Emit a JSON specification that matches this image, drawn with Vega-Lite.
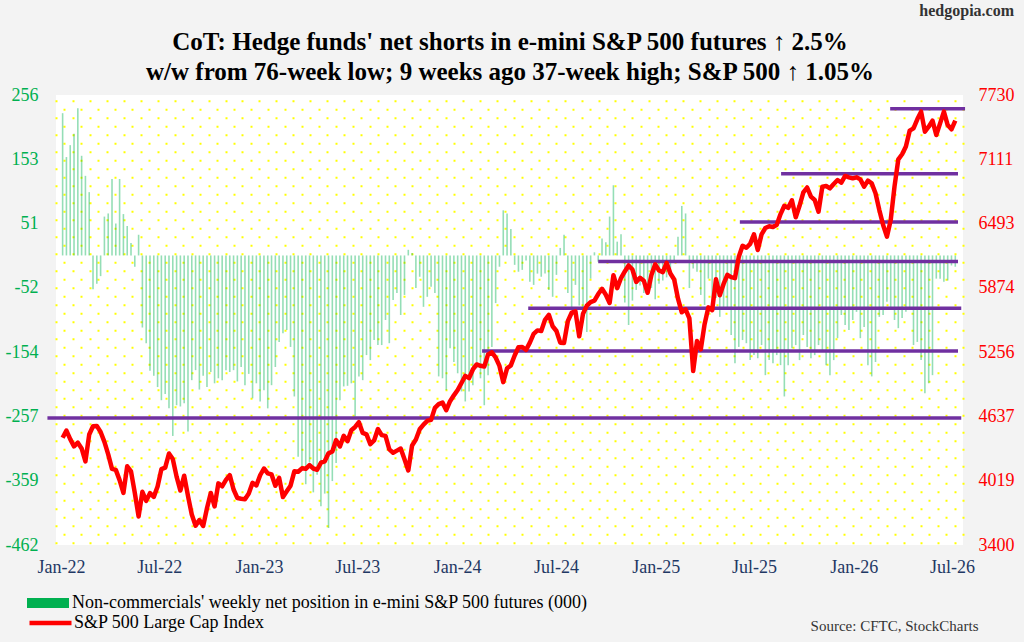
{
  "$schema": "https://vega.github.io/schema/vega-lite/v6.json",
  "width": 907,
  "height": 450,
  "autosize": {"type": "none"},
  "padding": {"left": 56, "top": 95, "right": 61, "bottom": 97},
  "background": "#f3f3f3",
  "title": {"text": "hedgopia.com", "anchor": "end", "font": "Liberation Serif", "fontSize": 16, "fontWeight": "bold", "color": "#333333", "offset": 10},
  "datasets": {
    "weekly": [
      {"d":"2022-01-04","p":227,"s":4432},{"d":"2022-01-11","p":157,"s":4501},{"d":"2022-01-18","p":176,"s":4419},{"d":"2022-01-25","p":194,"s":4349},
      {"d":"2022-02-01","p":235,"s":4385},{"d":"2022-02-08","p":159,"s":4329},{"d":"2022-02-15","p":127,"s":4204},{"d":"2022-02-22","p":101,"s":4463},
      {"d":"2022-03-01","p":-54,"s":4543},{"d":"2022-03-08","p":-45,"s":4546},{"d":"2022-03-15","p":-33,"s":4488},{"d":"2022-03-22","p":62,"s":4392},
      {"d":"2022-03-29","p":67,"s":4272},{"d":"2022-04-05","p":122,"s":4132},{"d":"2022-04-12","p":51,"s":4123},{"d":"2022-04-19","p":122,"s":4024},
      {"d":"2022-04-26","p":66,"s":3901},{"d":"2022-05-03","p":47,"s":4158},{"d":"2022-05-10","p":20,"s":4109},{"d":"2022-05-17","p":-18,"s":3901},
      {"d":"2022-05-24","p":33,"s":3675},{"d":"2022-05-31","p":-115,"s":3912},{"d":"2022-06-07","p":-140,"s":3825},{"d":"2022-06-14","p":-184,"s":3899},
      {"d":"2022-06-21","p":-192,"s":3863},{"d":"2022-06-28","p":-210,"s":3962},{"d":"2022-07-05","p":-231,"s":4130},{"d":"2022-07-12","p":-221,"s":4145},
      {"d":"2022-07-19","p":-244,"s":4280},{"d":"2022-07-26","p":-288,"s":4228},{"d":"2022-08-02","p":-239,"s":4058},{"d":"2022-08-09","p":-241,"s":3924},
      {"d":"2022-08-16","p":-236,"s":4067},{"d":"2022-08-23","p":-281,"s":3873},{"d":"2022-08-30","p":-199,"s":3693},{"d":"2022-09-06","p":-183,"s":3586},
      {"d":"2022-09-13","p":-214,"s":3640},{"d":"2022-09-20","p":-192,"s":3583},{"d":"2022-09-27","p":-210,"s":3753},{"d":"2022-10-04","p":-186,"s":3901},
      {"d":"2022-10-11","p":-204,"s":3771},{"d":"2022-10-18","p":-196,"s":3993},{"d":"2022-10-25","p":-199,"s":3965},{"d":"2022-11-01","p":-183,"s":4026},
      {"d":"2022-11-08","p":-186,"s":4072},{"d":"2022-11-15","p":-183,"s":3934},{"d":"2022-11-22","p":-201,"s":3852},{"d":"2022-11-29","p":-178,"s":3845},
      {"d":"2022-12-06","p":-207,"s":3840},{"d":"2022-12-13","p":-189,"s":3895},{"d":"2022-12-20","p":-228,"s":3999},{"d":"2022-12-27","p":-204,"s":3973},
      {"d":"2023-01-03","p":-233,"s":4071},{"d":"2023-01-10","p":-215,"s":4136},{"d":"2023-01-17","p":-244,"s":4090},{"d":"2023-01-24","p":-207,"s":4079},
      {"d":"2023-01-31","p":-178,"s":3970},{"d":"2023-02-07","p":-138,"s":4046},{"d":"2023-02-14","p":-124,"s":3862},{"d":"2023-02-21","p":-119,"s":3917},
      {"d":"2023-02-28","p":-146,"s":3971},{"d":"2023-03-07","p":-225,"s":4109},{"d":"2023-03-14","p":-321,"s":4105},{"d":"2023-03-21","p":-340,"s":4138},
      {"d":"2023-03-28","p":-365,"s":4133},{"d":"2023-04-04","p":-330,"s":4169},{"d":"2023-04-11","p":-378,"s":4136},{"d":"2023-04-18","p":-350,"s":4124},
      {"d":"2023-04-25","p":-400,"s":4192},{"d":"2023-05-02","p":-380,"s":4205},{"d":"2023-05-09","p":-435,"s":4282},{"d":"2023-05-16","p":-360,"s":4299},
      {"d":"2023-05-23","p":-331,"s":4410},{"d":"2023-05-30","p":-231,"s":4348},{"d":"2023-06-06","p":-209,"s":4450},{"d":"2023-06-13","p":-208,"s":4399},
      {"d":"2023-06-20","p":-204,"s":4505},{"d":"2023-06-27","p":-257,"s":4536},{"d":"2023-07-04","p":-193,"s":4582},{"d":"2023-07-11","p":-199,"s":4478},
      {"d":"2023-07-18","p":-159,"s":4464},{"d":"2023-07-25","p":-167,"s":4370},{"d":"2023-08-01","p":-135,"s":4406},{"d":"2023-08-08","p":-143,"s":4516},
      {"d":"2023-08-15","p":-143,"s":4457},{"d":"2023-08-22","p":-103,"s":4450},{"d":"2023-08-29","p":-140,"s":4320},{"d":"2023-09-05","p":-71,"s":4288},
      {"d":"2023-09-12","p":-60,"s":4308},{"d":"2023-09-19","p":-95,"s":4328},{"d":"2023-09-26","p":-63,"s":4224},{"d":"2023-10-03","p":9,"s":4117},
      {"d":"2023-10-10","p":4,"s":4358},{"d":"2023-10-17","p":-52,"s":4415},{"d":"2023-10-24","p":-34,"s":4514},{"d":"2023-10-31","p":-82,"s":4559},
      {"d":"2023-11-07","p":-66,"s":4595},{"d":"2023-11-14","p":-50,"s":4604},{"d":"2023-11-21","p":-60,"s":4719},{"d":"2023-11-28","p":-193,"s":4755},
      {"d":"2023-12-05","p":-196,"s":4770},{"d":"2023-12-12","p":-215,"s":4697},{"d":"2023-12-19","p":-148,"s":4784},{"d":"2023-12-26","p":-170,"s":4840},
      {"d":"2024-01-02","p":-188,"s":4891},{"d":"2024-01-09","p":-217,"s":4959},{"d":"2024-01-16","p":-233,"s":5027},{"d":"2024-01-23","p":-217,"s":5006},
      {"d":"2024-01-30","p":-207,"s":5089},{"d":"2024-02-06","p":-180,"s":5137},{"d":"2024-02-13","p":-196,"s":5124},{"d":"2024-02-20","p":-239,"s":5117},
      {"d":"2024-02-27","p":-191,"s":5234},{"d":"2024-03-05","p":-146,"s":5254},{"d":"2024-03-12","p":-76,"s":5204},{"d":"2024-03-19","p":-18,"s":5123},
      {"d":"2024-03-26","p":72,"s":4967},{"d":"2024-04-02","p":67,"s":5100},{"d":"2024-04-09","p":42,"s":5128},{"d":"2024-04-16","p":-15,"s":5223},
      {"d":"2024-04-23","p":-26,"s":5303},{"d":"2024-04-30","p":-23,"s":5305},{"d":"2024-05-07","p":-8,"s":5278},{"d":"2024-05-14","p":-42,"s":5347},
      {"d":"2024-05-21","p":-47,"s":5432},{"d":"2024-05-28","p":-29,"s":5465},{"d":"2024-06-04","p":-34,"s":5460},{"d":"2024-06-11","p":-29,"s":5567},
      {"d":"2024-06-18","p":-55,"s":5615},{"d":"2024-06-25","p":-66,"s":5505},{"d":"2024-07-02","p":-31,"s":5459},{"d":"2024-07-09","p":12,"s":5347},
      {"d":"2024-07-16","p":33,"s":5344},{"d":"2024-07-23","p":-60,"s":5554},{"d":"2024-07-30","p":-87,"s":5635},{"d":"2024-08-06","p":-47,"s":5648},
      {"d":"2024-08-13","p":-80,"s":5408},{"d":"2024-08-20","p":-103,"s":5626},{"d":"2024-08-27","p":-122,"s":5703},{"d":"2024-09-03","p":-37,"s":5738},
      {"d":"2024-09-10","p":5,"s":5751},{"d":"2024-09-17","p":-10,"s":5815},{"d":"2024-09-24","p":27,"s":5865},{"d":"2024-10-01","p":21,"s":5808},
      {"d":"2024-10-08","p":62,"s":5729},{"d":"2024-10-15","p":112,"s":5996},{"d":"2024-10-22","p":22,"s":5871},{"d":"2024-10-29","p":34,"s":5969},
      {"d":"2024-11-05","p":-75,"s":6032},{"d":"2024-11-12","p":-111,"s":6090},{"d":"2024-11-19","p":-72,"s":6051},{"d":"2024-11-26","p":-55,"s":5931},
      {"d":"2024-12-03","p":-48,"s":5971},{"d":"2024-12-10","p":-60,"s":5942},{"d":"2024-12-17","p":-48,"s":5827},{"d":"2024-12-24","p":-52,"s":5997},
      {"d":"2024-12-31","p":-70,"s":6101},{"d":"2025-01-07","p":-45,"s":6041},{"d":"2025-01-14","p":-40,"s":6026},{"d":"2025-01-21","p":-35,"s":6115},
      {"d":"2025-01-28","p":-25,"s":6013},{"d":"2025-02-04","p":-8,"s":5955},{"d":"2025-02-11","p":30,"s":5770},{"d":"2025-02-18","p":79,"s":5639},
      {"d":"2025-02-25","p":67,"s":5668},{"d":"2025-03-04","p":-52,"s":5581},{"d":"2025-03-11","p":-21,"s":5074},{"d":"2025-03-18","p":-26,"s":5363},
      {"d":"2025-03-25","p":-63,"s":5283},{"d":"2025-04-01","p":-79,"s":5525},{"d":"2025-04-08","p":-37,"s":5687},{"d":"2025-04-15","p":-87,"s":5660},
      {"d":"2025-04-22","p":-68,"s":5958},{"d":"2025-04-29","p":-98,"s":5803},{"d":"2025-05-06","p":-87,"s":5912},{"d":"2025-05-13","p":-85,"s":6000},
      {"d":"2025-05-20","p":-127,"s":5977},{"d":"2025-05-27","p":-172,"s":5968},{"d":"2025-06-03","p":-146,"s":6173},{"d":"2025-06-10","p":-135,"s":6279},
      {"d":"2025-06-17","p":-140,"s":6260},{"d":"2025-06-24","p":-167,"s":6297},{"d":"2025-07-01","p":-159,"s":6389},{"d":"2025-07-08","p":-164,"s":6238},
      {"d":"2025-07-15","p":-143,"s":6389},{"d":"2025-07-22","p":-191,"s":6450},{"d":"2025-07-29","p":-167,"s":6467},{"d":"2025-08-05","p":-172,"s":6460},
      {"d":"2025-08-12","p":-159,"s":6482},{"d":"2025-08-19","p":-175,"s":6584},{"d":"2025-08-26","p":-225,"s":6664},{"d":"2025-09-02","p":-175,"s":6644},
      {"d":"2025-09-09","p":-148,"s":6716},{"d":"2025-09-16","p":-143,"s":6553},{"d":"2025-09-23","p":-167,"s":6664},{"d":"2025-09-30","p":-127,"s":6792},
      {"d":"2025-10-07","p":-146,"s":6840},{"d":"2025-10-14","p":-164,"s":6752},{"d":"2025-10-21","p":-159,"s":6720},{"d":"2025-10-28","p":-143,"s":6607},
      {"d":"2025-11-04","p":-154,"s":6848},{"d":"2025-11-11","p":-175,"s":6854},{"d":"2025-11-18","p":-191,"s":6832},{"d":"2025-11-25","p":-167,"s":6874},
      {"d":"2025-12-02","p":-132,"s":6912},{"d":"2025-12-09","p":-95,"s":6887},{"d":"2025-12-16","p":-111,"s":6951},{"d":"2025-12-23","p":-119,"s":6938},
      {"d":"2025-12-30","p":-103,"s":6928},{"d":"2026-01-06","p":-90,"s":6938},{"d":"2026-01-13","p":-132,"s":6918},{"d":"2026-01-20","p":-114,"s":6848},
      {"d":"2026-01-27","p":-175,"s":6906},{"d":"2026-02-03","p":-193,"s":6880},{"d":"2026-02-10","p":-170,"s":6784},{"d":"2026-02-17","p":-98,"s":6623},
      {"d":"2026-02-24","p":-95,"s":6479},{"d":"2026-03-03","p":-74,"s":6367},{"d":"2026-03-10","p":-85,"s":6527},{"d":"2026-03-17","p":-103,"s":6850},
      {"d":"2026-03-24","p":-116,"s":7110},{"d":"2026-03-31","p":-100,"s":7160},{"d":"2026-04-07","p":-90,"s":7235},{"d":"2026-04-14","p":-87,"s":7387},
      {"d":"2026-04-21","p":-143,"s":7409},{"d":"2026-04-28","p":-138,"s":7496},{"d":"2026-05-05","p":-167,"s":7570},{"d":"2026-05-12","p":-220,"s":7377},
      {"d":"2026-05-19","p":-204,"s":7425},{"d":"2026-05-26","p":-191,"s":7483},{"d":"2026-06-02","p":-37,"s":7345},{"d":"2026-06-09","p":-37,"s":7457},
      {"d":"2026-06-16","p":-42,"s":7570},{"d":"2026-06-23","p":-40,"s":7441},{"d":"2026-06-30","p":-16,"s":7400},{"d":"2026-07-07","p":-18,"s":7483}
    ],
    "levels": [
      {"s":"2021-12-07","e":"2026-07-18","v":4621},
      {"s":"2024-02-16","e":"2026-07-12","v":5266},
      {"s":"2024-05-11","e":"2026-07-18","v":5678},
      {"s":"2024-09-17","e":"2026-07-12","v":6128},
      {"s":"2025-06-05","e":"2026-07-12","v":6508},
      {"s":"2025-08-20","e":"2026-07-12","v":6973},
      {"s":"2026-03-09","e":"2026-07-25","v":7598}
    ]
  },
  "layer": [
    {
      "layer": [
        {
          "data": {"name": "weekly"},
          "mark": {"type": "bar", "size": 1.6, "opacity": 0.42},
          "encoding": {
            "x": {
              "field": "d", "type": "temporal",
              "scale": {"type": "utc", "domain": [{"year": 2022, "month": 1, "date": 1, "utc": true}, {"year": 2026, "month": 7, "date": 12, "utc": true}]},
              "axis": {
                "orient": "bottom",
                "values": [
                  {"year": 2022, "month": 1, "date": 1, "utc": true}, {"year": 2022, "month": 7, "date": 1, "utc": true},
                  {"year": 2023, "month": 1, "date": 1, "utc": true}, {"year": 2023, "month": 7, "date": 1, "utc": true},
                  {"year": 2024, "month": 1, "date": 1, "utc": true}, {"year": 2024, "month": 7, "date": 1, "utc": true},
                  {"year": 2025, "month": 1, "date": 1, "utc": true}, {"year": 2025, "month": 7, "date": 1, "utc": true},
                  {"year": 2026, "month": 1, "date": 1, "utc": true}, {"year": 2026, "month": 7, "date": 1, "utc": true}
                ],
                "format": "%b-%y",
                "labelFontSize": 18, "labelColor": "#1f3864", "labelPadding": 13,
                "labelFlush": false, "labelOverlap": false,
                "ticks": false, "domain": false, "grid": false,
                "title": "Source: CFTC, StockCharts",
                "titleFontSize": 15, "titleFontWeight": "normal", "titleColor": "#333333",
                "titleAlign": "right", "titleBaseline": "middle", "titleX": 922, "titleY": 80
              }
            },
            "y": {
              "field": "p", "type": "quantitative",
              "scale": {"domain": [-462, 256], "nice": false, "zero": false},
              "axis": {
                "orient": "left",
                "values": [256, 153.43, 50.86, -51.71, -154.29, -256.86, -359.43, -462],
                "labelExpr": "'' + round(datum.value)",
                "labelFontSize": 18, "labelColor": "#00b050", "labelPadding": 18,
                "labelFlush": false, "labelOverlap": false,
                "ticks": false, "domain": false, "grid": false, "title": null
              }
            },
            "color": {
              "datum": "Non-commercials' weekly net position in e-mini S&P 500 futures (000)",
              "type": "nominal",
              "scale": {"range": ["#00b050"]},
              "legend": {
                "orient": "none", "legendX": -29, "legendY": 499,
                "title": null, "padding": 0,
                "symbolType": "M-1,-0.24H1V0.24H-1Z", "symbolSize": 1764, "symbolOffset": 0,
                "symbolOpacity": 1, "symbolStrokeWidth": 0, "symbolFillColor": "#00b050",
                "clipHeight": 18,
                "labelFontSize": 18, "labelColor": "#000000", "labelLimit": 1000, "labelOffset": 3
              }
            }
          }
        },
        {
          "layer": [
            {
              "data": {"name": "levels"},
              "mark": {"type": "rule", "color": "#7030a0", "strokeWidth": 3.5},
              "encoding": {
                "x": {"field": "s", "type": "temporal", "scale": {"type": "utc", "domain": [{"year": 2022, "month": 1, "date": 1, "utc": true}, {"year": 2026, "month": 7, "date": 12, "utc": true}]}},
                "x2": {"field": "e"},
                "y": {
                  "field": "v", "type": "quantitative",
                  "scale": {"domain": [3400, 7730], "nice": false, "zero": false},
                  "axis": {
                    "orient": "right",
                    "values": [7730, 7111.43, 6492.86, 5874.29, 5255.71, 4637.14, 4018.57, 3400],
                    "labelExpr": "'' + round(datum.value)",
                    "labelFontSize": 18, "labelColor": "#ff0000", "labelPadding": 15,
                    "labelFlush": false, "labelOverlap": false,
                    "ticks": false, "domain": false, "grid": false, "title": null
                  }
                }
              }
            },
            {
              "data": {"name": "weekly"},
              "mark": {"type": "line", "strokeWidth": 4.5, "strokeJoin": "round"},
              "encoding": {
                "x": {"field": "d", "type": "temporal", "scale": {"type": "utc", "domain": [{"year": 2022, "month": 1, "date": 1, "utc": true}, {"year": 2026, "month": 7, "date": 12, "utc": true}]}},
                "y": {"field": "s", "type": "quantitative", "scale": {"domain": [3400, 7730], "nice": false, "zero": false}},
                "stroke": {
                  "datum": "S&P 500 Large Cap Index", "type": "nominal",
                  "scale": {"range": ["#ff0000"]},
                  "legend": {
                    "orient": "none", "legendX": -29, "legendY": 519,
                    "title": null, "padding": 0,
                    "symbolType": "stroke", "symbolSize": 1764, "symbolOffset": 0,
                    "symbolOpacity": 1, "symbolStrokeWidth": 4.5, "symbolStrokeColor": "#ff0000",
                    "clipHeight": 18,
                    "labelFontSize": 18, "labelColor": "#000000", "labelLimit": 1000, "labelOffset": 0
                  }
                }
              }
            }
          ]
        }
      ],
      "resolve": {"scale": {"y": "independent"}}
    },
    {
      "data": {"values": [{"g": 0}]},
      "mark": {"type": "rule", "opacity": 0},
      "encoding": {
        "x": {
          "field": "g", "type": "quantitative",
          "scale": {"domain": [0, 107], "nice": false, "zero": false},
          "axis": {
            "orient": "top", "tickCount": 107,
            "grid": true, "gridColor": "#ffff00", "gridWidth": 2, "gridDash": [2, 15],
            "gridDashOffset": {"condition": {"test": "datum.value % 2 === 1", "value": 3.7}, "value": 12.3},
            "labels": false, "ticks": false, "domain": false,
            "title": ["CoT: Hedge funds' net shorts in e-mini S&P 500 futures ↑ 2.5%", "w/w from 76-week low; 9 weeks ago 37-week high; S&P 500 ↑ 1.05%"],
            "titleFontSize": 25, "titleFontWeight": "bold", "titleColor": "#000000",
            "titleLineHeight": 30, "titlePadding": 11
          }
        }
      }
    }
  ],
  "resolve": {"scale": {"x": "independent", "y": "independent"}},
  "config": {
    "view": {"fill": "white", "stroke": null},
    "font": "Liberation Serif",
    "axis": {"labelFont": "Liberation Serif", "titleFont": "Liberation Serif"},
    "legend": {"labelFont": "Liberation Serif"}
  }
}
